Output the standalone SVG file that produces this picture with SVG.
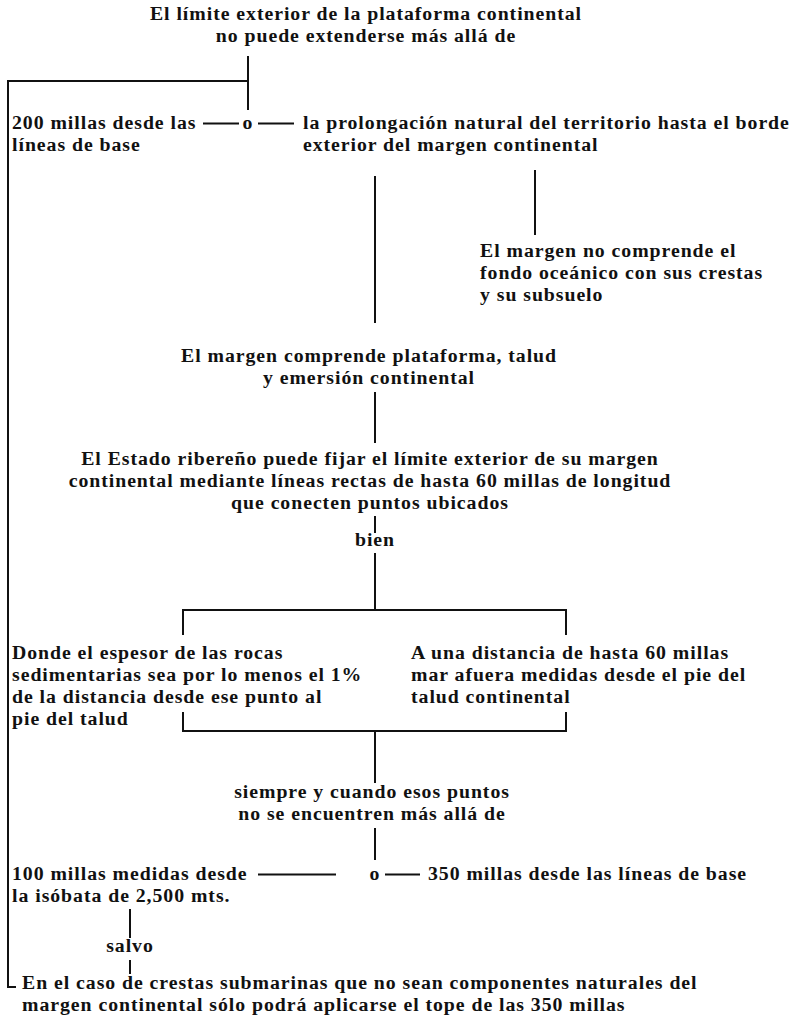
<svg xmlns="http://www.w3.org/2000/svg" width="802" height="1016" viewBox="0 0 802 1016">
<style>
.t{font-family:"Liberation Serif","Times New Roman",serif;font-weight:bold;font-size:19.8px;letter-spacing:0.95px;fill:#111}
.m{text-anchor:middle}
.c path{stroke:#111;stroke-width:2;fill:none}
</style>
<rect width="802" height="1016" fill="#fff"/>
<g id="connectors" class="c">
<path d="M248,56 V110"/>
<path d="M248,81 H8 V987 H16"/>
<path d="M203,123.5 H239"/>
<path d="M258,123.5 H294"/>
<path d="M375,176 V323"/>
<path d="M535,170 V235"/>
<path d="M375,392 V443"/>
<path d="M375,516 V533"/>
<path d="M375,553 V610"/>
<path d="M183,635 V610 H566 V635"/>
<path d="M183,712 V731 H566 V712"/>
<path d="M375,731 V783"/>
<path d="M375,828 V860"/>
<path d="M258,874.5 H336"/>
<path d="M385,874.5 H420"/>
<path d="M130,909 V938"/>
<path d="M130,960 V974"/>
</g>
<g id="n-title" class="t m">
<text x="366" y="20">El límite exterior de la plataforma continental</text>
<text x="366" y="42">no puede extenderse más allá de</text>
</g>
<g id="n-o1" class="t m"><text x="248" y="129">o</text></g>
<g id="n-200" class="t">
<text x="12" y="129">200 millas desde las</text>
<text x="12" y="151">líneas de base</text>
</g>
<g id="n-prolongacion" class="t">
<text x="303" y="129">la prolongación natural del territorio hasta el borde</text>
<text x="303" y="151">exterior del margen continental</text>
</g>
<g id="n-no-comprende" class="t">
<text x="480" y="257">El margen no comprende el</text>
<text x="480" y="279">fondo oceánico con sus crestas</text>
<text x="480" y="301">y su subsuelo</text>
</g>
<g id="n-comprende" class="t m">
<text x="369" y="362">El margen comprende plataforma, talud</text>
<text x="369" y="384">y emersión continental</text>
</g>
<g id="n-estado" class="t m">
<text x="370" y="465">El Estado ribereño puede fijar el límite exterior de su margen</text>
<text x="370" y="487">continental mediante líneas rectas de hasta 60 millas de longitud</text>
<text x="370" y="509">que conecten puntos ubicados</text>
</g>
<g id="n-bien" class="t m"><text x="375" y="546">bien</text></g>
<g id="n-donde" class="t">
<text x="12" y="659">Donde el espesor de las rocas</text>
<text x="12" y="681">sedimentarias sea por lo menos el 1%</text>
<text x="12" y="703">de la distancia desde ese punto al</text>
<text x="12" y="725">pie del talud</text>
</g>
<g id="n-distancia" class="t">
<text x="411" y="659">A una distancia de hasta 60 millas</text>
<text x="411" y="681">mar afuera medidas desde el pie del</text>
<text x="411" y="703">talud continental</text>
</g>
<g id="n-siempre" class="t m">
<text x="372" y="798">siempre y cuando esos puntos</text>
<text x="372" y="820">no se encuentren más allá de</text>
</g>
<g id="n-100" class="t">
<text x="12" y="880">100 millas medidas desde</text>
<text x="12" y="902">la isóbata de 2,500 mts.</text>
</g>
<g id="n-o2" class="t m"><text x="375" y="880">o</text></g>
<g id="n-350" class="t"><text x="428" y="880">350 millas desde las líneas de base</text></g>
<g id="n-salvo" class="t m"><text x="130" y="952">salvo</text></g>
<g id="n-crestas" class="t">
<text x="22" y="989">En el caso de crestas submarinas que no sean componentes naturales del</text>
<text x="22" y="1011">margen continental sólo podrá aplicarse el tope de las 350 millas</text>
</g>
</svg>
